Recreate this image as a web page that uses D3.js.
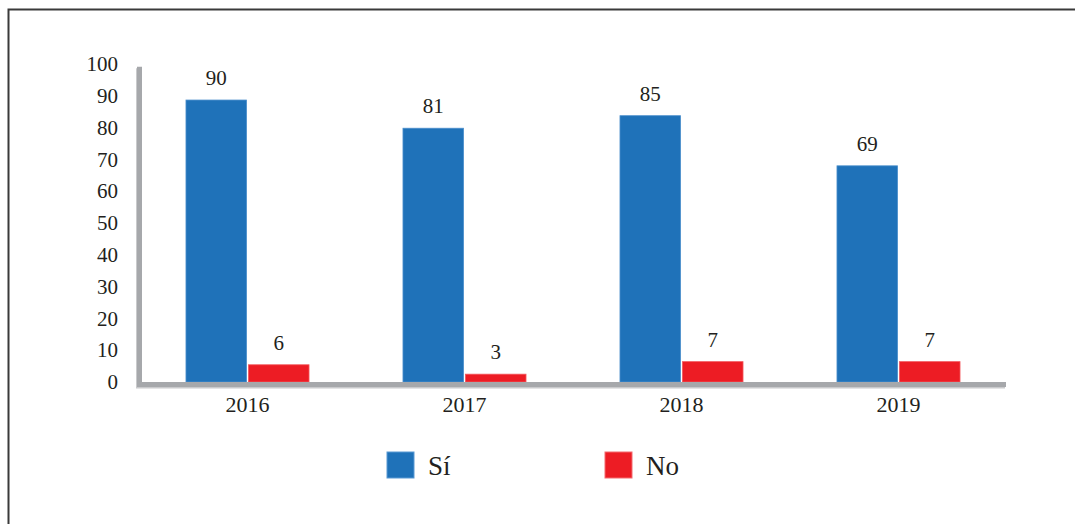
<!DOCTYPE html>
<html>
<head>
<meta charset="utf-8">
<script src="https://cdn.jsdelivr.net/npm/d3@7/dist/d3.min.js"></script>
<style>
  html, body { margin: 0; padding: 0; background: #fff; }
  svg { display: block; }
  svg text { font-family: 'Liberation Serif', 'Times New Roman', serif; fill: #231f20; }
</style>
</head>
<body>
<svg id="chart" width="1075" height="524"></svg>
<script>
// ---- data ----
const years = ["2016", "2017", "2018", "2019"];
const seriesNames = ["Sí", "No"];
const siValues = [90, 81, 85, 69];
const noValues = [5.5, 2.5, 6.5, 6.5];      // bar heights as drawn
const siLabels = ["90", "81", "85", "69"];   // printed value labels
const noLabels = ["6", "3", "7", "7"];
const yTicks = [0, 10, 20, 30, 40, 50, 60, 70, 80, 90, 100];
const seriesColors = ["#1f72b9", "#ed1c24"];

const FONT = "'Liberation Serif', 'Times New Roman', serif";
const svg = d3.select("#chart");

// outer frame (top and left edges visible)
svg.append("path")
  .attr("d", "M8.5,524 L8.5,9.5 L1075,9.5")
  .attr("fill", "none")
  .attr("stroke", "#3a3a3a")
  .attr("stroke-width", 2);

// scales
const x0 = d3.scaleBand().domain(years).range([139, 1007]).paddingInner(0.433).paddingOuter(0.2165);
const x1 = d3.scaleBand().domain(seriesNames).range([0, x0.bandwidth()]).paddingInner(0.03);
const y = d3.scaleLinear().domain([0, 100]).range([382, 68.7]);
const yLabel = d3.scaleLinear().domain([0, 100]).range([382, 64]);
const color = d3.scaleOrdinal().domain(seriesNames).range(seriesColors);

const rows = years.map((yr, i) => ({ year: yr, values: [
  { key: "Sí", value: siValues[i], label: siLabels[i] },
  { key: "No", value: noValues[i], label: noLabels[i] }
]}));

// bars
const g = svg.append("g");
const groups = g.selectAll("g.grp").data(rows).join("g")
  .attr("class", "grp")
  .attr("transform", d => `translate(${x0(d.year)},0)`);

groups.selectAll("rect").data(d => d.values).join("rect")
  .attr("x", d => x1(d.key))
  .attr("width", x1.bandwidth())
  .attr("y", d => y(d.value))
  .attr("height", d => y(0) - y(d.value))
  .attr("fill", d => color(d.key))
  .attr("stroke", d => d.key === "Sí" ? "#4b8fcc" : "#f2595e")
  .attr("stroke-width", 0.8);

groups.selectAll("text.val").data(d => d.values).join("text")
  .attr("class", "val")
  .attr("x", d => x1(d.key) + x1.bandwidth() / 2)
  .attr("y", d => y(d.value) - 15)
  .attr("text-anchor", "middle")
  .attr("font-family", FONT)
  .attr("font-size", 21)
  .text(d => d.label);

// axes (thick grey L with slight shadow)
const axisPath = `M${139.5},${y(100) - 2} L${139.5},${384.5} L${1006},${384.5}`;
svg.append("path").attr("d", axisPath)
  .attr("transform", "translate(-1,1.5)")
  .attr("fill", "none").attr("stroke", "#c9cacc").attr("stroke-width", 5);
svg.append("path").attr("d", axisPath)
  .attr("fill", "none").attr("stroke", "#a6a8ab").attr("stroke-width", 5);

// y tick labels
const yAxis = d3.axisLeft(yLabel).tickValues(yTicks).tickSize(0).tickPadding(0);
const yg = svg.append("g").attr("transform", "translate(118,0)").call(yAxis)
  .attr("font-family", FONT).attr("font-size", 21);
yg.select(".domain").remove();
yg.selectAll("text").attr("fill", "#231f20");

// x labels
const xAxis = d3.axisBottom(x0).tickSize(0).tickPadding(0);
const xg = svg.append("g").attr("transform", "translate(0,396)").call(xAxis)
  .attr("font-family", FONT).attr("font-size", 22);
xg.select(".domain").remove();
xg.selectAll("text").attr("fill", "#231f20");

// legend
const legendX = [387, 605];
const lg = svg.append("g");
seriesNames.forEach((s, i) => {
  lg.append("rect")
    .attr("x", legendX[i]).attr("y", 452)
    .attr("width", 27).attr("height", 26)
    .attr("fill", color(s))
    .attr("stroke", i === 0 ? "#5a9ad4" : "#f36a6e").attr("stroke-width", 1);
  lg.append("text")
    .attr("x", legendX[i] + 41).attr("y", 475)
    .attr("font-family", FONT)
    .attr("font-size", 27)
    .text(s);
});
</script>
</body>
</html>
